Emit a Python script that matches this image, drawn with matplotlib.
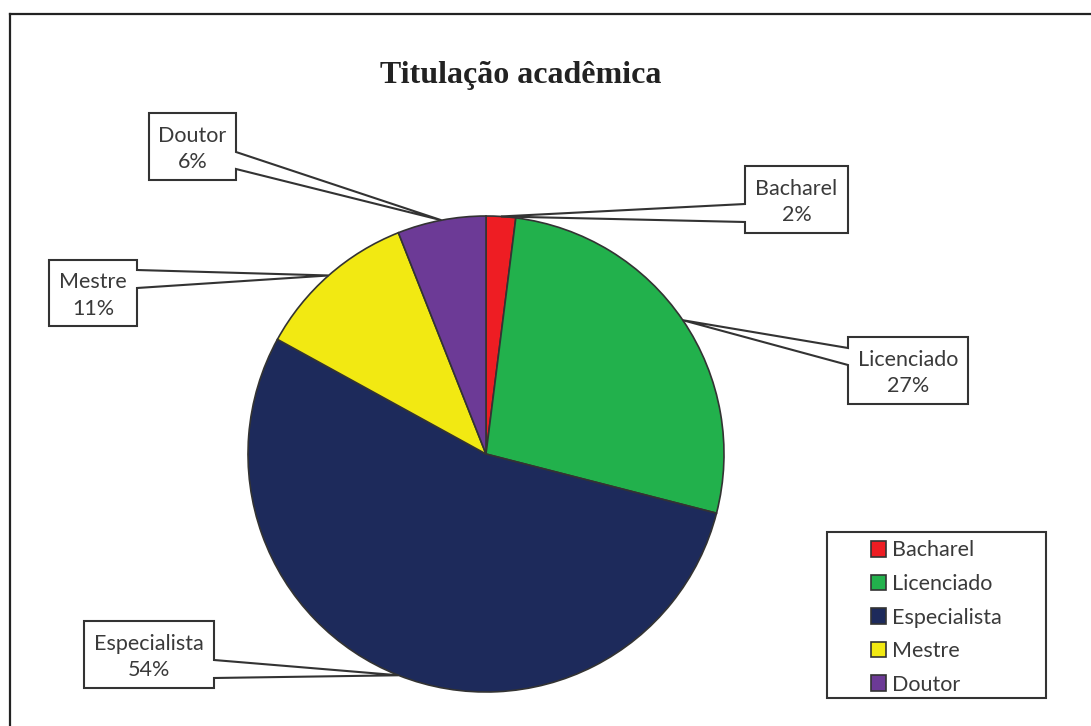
import matplotlib
matplotlib.use("Agg")
import matplotlib.pyplot as plt
from matplotlib.patches import Polygon, Rectangle
import numpy as np

# ---- data ----
categories = ["Bacharel", "Licenciado", "Especialista", "Mestre", "Doutor"]
values = [2, 27, 54, 11, 6]
pct_labels = ["2%", "27%", "54%", "11%", "6%"]
colors = ["#EE1D23", "#22B14C", "#1D2A5B", "#F2E912", "#6C3A96"]
title = "Titulação acadêmica"

# ---- layout (pixel coordinates, y measured from top) ----
W, H = 1091, 726
CX, CY, R = 486, 454, 238
# box: (x0, y0, x1, y1, side, base_y_a, base_y_b)
boxes = {
    "Bacharel":     (745, 166, 848, 233, "left", 204, 222),
    "Licenciado":   (848, 337, 968, 404, "left", 348, 365),
    "Especialista": (84, 621, 214, 688, "right", 660, 678),
    "Mestre":       (49, 260, 137, 326, "right", 270, 288),
    "Doutor":       (149, 113, 236, 180, "right", 152, 169),
}
EDGE = "#333333"
TXT = "#3a3a3a"
LABEL_FONT = "Lato"
FS = 15.5

fig = plt.figure(figsize=(W / 100, H / 100), dpi=100)
ax = fig.add_axes([0, 0, 1, 1])

def fy(y):
    return H - y

wedges, _ = ax.pie(values, colors=colors, startangle=90, counterclock=False,
                   center=(CX, fy(CY)), radius=R,
                   wedgeprops=dict(edgecolor=EDGE, linewidth=1.2))
ax.set_xlim(0, W)
ax.set_ylim(0, H)
ax.set_aspect("equal")
ax.axis("off")

# callouts
total = float(sum(values))
cum = 0.0
for cat, v, pl in zip(categories, values, pct_labels):
    mid = cum + v / 2.0
    cum += v
    theta = np.deg2rad(90 - 360 * mid / total)
    tipx = CX + R * np.cos(theta)
    tipy = fy(CY) + R * np.sin(theta)
    x0, y0, x1, y1, side, ba, bb = boxes[cat]
    if side == "right":
        pts = [(x0, fy(y0)), (x1, fy(y0)), (x1, fy(ba)), (tipx, tipy),
               (x1, fy(bb)), (x1, fy(y1)), (x0, fy(y1))]
    else:
        pts = [(x1, fy(y0)), (x0, fy(y0)), (x0, fy(ba)), (tipx, tipy),
               (x0, fy(bb)), (x0, fy(y1)), (x1, fy(y1))]
    ax.add_patch(Polygon(pts, closed=True, facecolor="white", edgecolor=EDGE,
                         linewidth=1.5, zorder=5, joinstyle="miter"))
    ax.text((x0 + x1) / 2, fy((y0 + y1) / 2 + 2.5), f"{cat}\n{pl}", ha="center",
            va="center", fontsize=FS, family=LABEL_FONT, color=TXT,
            linespacing=1.38, zorder=6)

# title
ax.text(521, fy(75), title, ha="center", va="center", fontsize=23,
        fontweight="bold", family="Liberation Serif", color="#222222")

# legend
lx0, ly0, lx1, ly1 = 827, 532, 1046, 698
ax.add_patch(Rectangle((lx0, fy(ly1)), lx1 - lx0, ly1 - ly0, facecolor="white",
                       edgecolor=EDGE, linewidth=1.5, zorder=5))
leg = ax.legend(wedges, categories, loc="center",
                bbox_to_anchor=((lx0 + lx1) / 2 / W, fy(617.5) / H),
                bbox_transform=fig.transFigure, frameon=False,
                prop={"family": LABEL_FONT, "size": FS},
                handlelength=0.72, handleheight=0.72, handletextpad=0.28,
                labelspacing=0.63, borderpad=0)
leg.set_zorder(7)
for t in leg.get_texts():
    t.set_color(TXT)

# outer frame (partially cropped in the original)
ax.plot([10, W], [fy(14), fy(14)], color="#222222", linewidth=1.6,
        solid_capstyle="projecting", zorder=8)
ax.plot([10, 10], [fy(14), 0], color="#222222", linewidth=1.6,
        solid_capstyle="projecting", zorder=8)

fig.savefig("out.png", dpi=100)
